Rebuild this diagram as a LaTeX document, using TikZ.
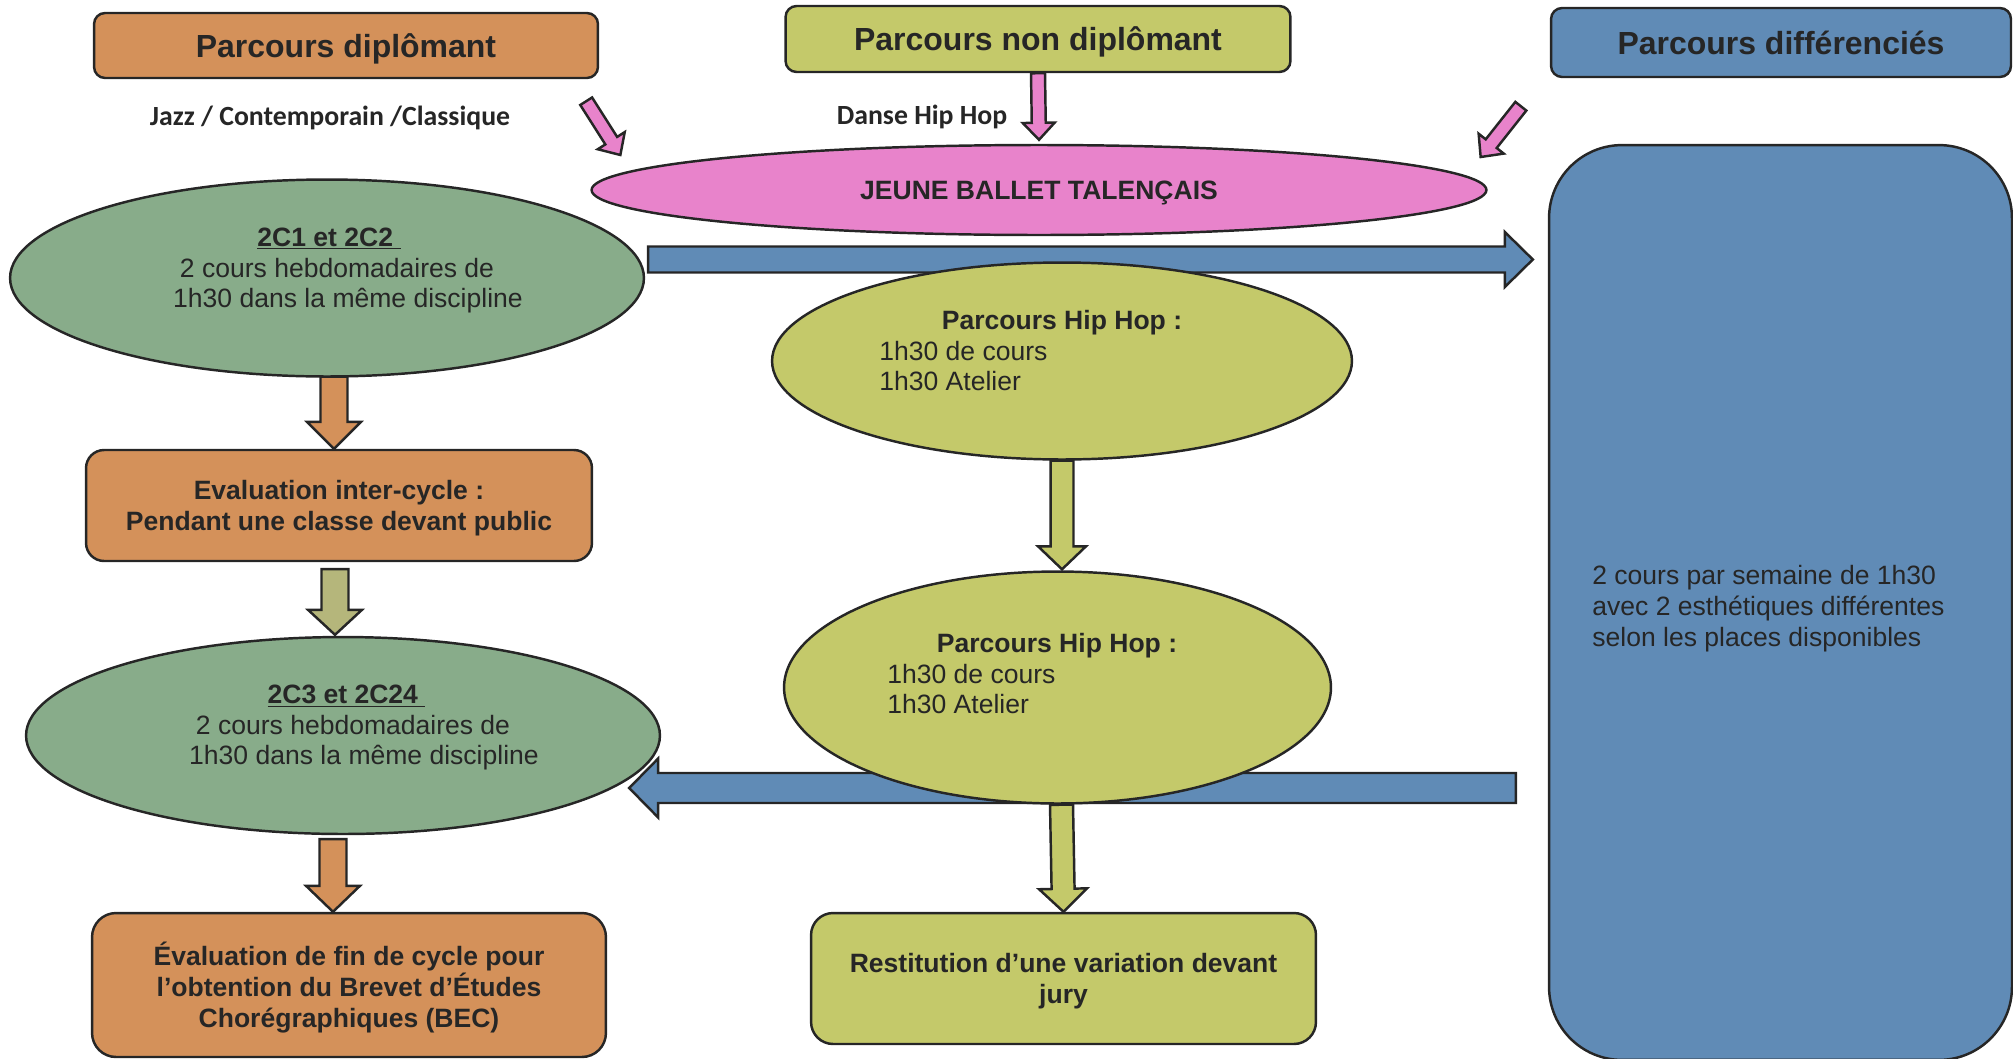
\documentclass[tikz,border=0pt]{standalone}
\usepackage{fontspec}
\setmainfont{Liberation Sans}
\newfontfamily\calibri{Carlito}
\usetikzlibrary{shapes.geometric,calc,backgrounds}

\definecolor{orangebox}{HTML}{D4915A}
\definecolor{olivebox}{HTML}{C4C96A}
\definecolor{bluebox}{HTML}{608BB6}
\definecolor{greenell}{HTML}{88AC8A}
\definecolor{pinkell}{HTML}{E883CB}
\definecolor{khaki}{HTML}{B5B67B}
\definecolor{ink}{HTML}{262626}

\newcommand{\headfont}{\fontsize{18.2}{21}\selectfont\bfseries}
\newcommand{\bodyfont}{\fontsize{15.1}{17.6}\selectfont}
\newcommand{\notefont}{\fontsize{15.8}{18}\selectfont\calibri\bfseries}

% block arrow: style, from, to, shaft half width, head half width, head length
\newcommand{\fatarrow}[6]{%
	\coordinate (hb) at ($(#3)!#6!(#2)$);
	\filldraw[#1] ($(#2)!#4!90:(#3)$) -- ($(hb)!#4!90:(#3)$) -- ($(hb)!#5!90:(#3)$) -- (#3)
		-- ($(hb)!#5!-90:(#3)$) -- ($(hb)!#4!-90:(#3)$) -- ($(#2)!#4!-90:(#3)$) -- cycle;}

\tikzset{
	box/.style={rectangle, rounded corners=#1, draw=ink, line width=1.4pt, text=ink,
		inner sep=0pt, align=center, text depth=0pt, font=\bodyfont\bfseries},
	box/.default=0.22cm,
	ell/.style={ellipse, draw=ink, line width=1.4pt, inner sep=0pt},
	txt/.style={text=ink, font=\bodyfont, align=center, inner sep=0pt},
	arr/.style={draw=ink, line width=1.4pt, line join=miter}
}

\begin{document}
\begin{tikzpicture}[x=0.02cm, y=-0.02cm]
	\useasboundingbox (0,0) rectangle (2013,1058);
	% top row
	\node[box, fill=orangebox, minimum width=10.08cm, minimum height=1.3cm, font=\headfont] (dip) at (346,45.5) {Parcours diplômant};
	\node[box, fill=olivebox, minimum width=10.1cm, minimum height=1.32cm, font=\headfont] (nondip) at (1038,39) {Parcours non diplômant};
	\node[box, fill=bluebox, minimum width=9.2cm, minimum height=1.38cm, font=\headfont] (diff) at (1781,42.5) {Parcours différenciés};
	\node[txt, font=\notefont] (jazz) at (330,117.5) {Jazz / Contemporain /Classique};
	\node[txt, font=\notefont] (hiphop) at (922,116.5) {Danse Hip Hop};
	\node[ell, fill=pinkell, minimum width=17.9cm, minimum height=1.8cm, text=ink, text depth=0pt, font=\bodyfont\bfseries] (jbt) at (1039,190) {JEUNE BALLET TALENÇAIS};
	% parcours diplomant
	\node[ell, fill=greenell, minimum width=12.68cm, minimum height=3.94cm] (g1) at (327,278) {};
	\node[txt] (g1txt) at (337,270.5) {\textbf{\underline{2C1 et 2C2~}}\hspace*{0.32cm}\\2 cours hebdomadaires de\\\hspace*{0.44cm}1h30 dans la même discipline};
	\node[box=0.36cm, fill=orangebox, minimum width=10.12cm, minimum height=2.22cm] (eval) at (339,505.5) {Evaluation inter-cycle :\\Pendant une classe devant public};
	\node[ell, fill=greenell, minimum width=12.68cm, minimum height=3.94cm] (g2) at (343,735.5) {};
	\node[txt] (g2txt) at (353,727.5) {\textbf{\underline{2C3 et 2C24~}}\hspace*{0.26cm}\\2 cours hebdomadaires de\\\hspace*{0.44cm}1h30 dans la même discipline};
	\node[box=0.48cm, fill=orangebox, minimum width=10.28cm, minimum height=2.88cm] (final) at (349,985) {Évaluation de fin de cycle pour\\l’obtention du Brevet d’Études\\Chorégraphiques (BEC)};
	% parcours non diplomant
	\node[ell, fill=olivebox, minimum width=11.6cm, minimum height=3.94cm] (o1) at (1062,361) {};
	\node[txt, font=\bodyfont\bfseries] (o1title) at (1062,323) {Parcours Hip Hop :};
	\node[txt, anchor=west, align=left] (o1lines) at (879,366) {1h30 de cours\\1h30 Atelier};
	\node[ell, fill=olivebox, minimum width=10.94cm, minimum height=4.64cm] (o2) at (1057.5,687.5) {};
	\node[txt, font=\bodyfont\bfseries] (o2title) at (1057,646) {Parcours Hip Hop :};
	\node[txt, anchor=west, align=left] (o2lines) at (887,689) {1h30 de cours\\1h30 Atelier};
	\node[box=0.44cm, fill=olivebox, minimum width=10.1cm, minimum height=2.62cm] (rest) at (1063.5,978.5) {Restitution d’une variation devant\\jury};
	% parcours differencies
	\node[box=1.46cm, fill=bluebox, minimum width=9.26cm, minimum height=18.3cm] (diffbody) at (1780.5,602.5) {};
	\node[txt, anchor=west, align=left] (diffnote) at (1592,609) {2 cours par semaine de 1h30\\avec 2 esthétiques différentes\\selon les places disponibles};

	% connectors
	\coordinate (p1s) at ($(dip.south east)+(-13,22)$);
	\coordinate (p1e) at ($(jbt.west)+(30,-35)$);
	\coordinate (p3s) at ($(diff.south west)+(-29,28)$);
	\coordinate (p3e) at ($(jbt.east)+(-7,-33)$);
	\coordinate (a1s) at ($(g1.south)+(7,-1)$);
	\coordinate (a1e) at ($(eval.north)+(-5,0)$);
	\coordinate (a2s) at ($(eval.south)+(-4,7)$);
	\coordinate (a2e) at ($(eval.south |- g2.north)+(-4,-1)$);
	\coordinate (a3s) at ($(g2.south)+(-10,4)$);
	\coordinate (a3e) at ($(final.north)+(-16,0)$);
	\coordinate (o2top) at ($(o1.south |- o2.north)+(0,-1)$);
	\coordinate (o2bot) at ($(o2.south)+(4,0)$);
	\coordinate (rs) at ($(g1.east)+(3,-18.5)$);
	\coordinate (re) at ($(g1.east -| diffbody.west)+(-15,-18.5)$);
	\coordinate (ls) at ($(g2.east -| diffbody.west)+(-32,52.5)$);
	\coordinate (le) at ($(g2.east)+(-32,52.5)$);
	\begin{scope}[on background layer]
		\fatarrow{arr, fill=pinkell}{p1s}{p1e}{0.14cm}{0.32cm}{0.34cm}
		\fatarrow{arr, fill=pinkell}{nondip.south}{$(jbt.north)+(0,-4)$}{0.14cm}{0.32cm}{0.34cm}
		\fatarrow{arr, fill=pinkell}{p3s}{p3e}{0.14cm}{0.32cm}{0.34cm}
		\fatarrow{arr, fill=orangebox}{a1s}{a1e}{0.27cm}{0.54cm}{0.54cm}
		\fatarrow{arr, fill=khaki}{a2s}{a2e}{0.27cm}{0.54cm}{0.5cm}
		\fatarrow{arr, fill=orangebox}{a3s}{a3e}{0.27cm}{0.54cm}{0.52cm}
		\fatarrow{arr, fill=olivebox}{o1.south}{o2top}{0.23cm}{0.48cm}{0.46cm}
		\fatarrow{arr, fill=olivebox}{o2bot}{rest.north}{0.23cm}{0.48cm}{0.46cm}
		\fatarrow{arr, fill=bluebox}{rs}{re}{0.26cm}{0.55cm}{0.56cm}
		\fatarrow{arr, fill=bluebox}{ls}{le}{0.3cm}{0.59cm}{0.58cm}
	\end{scope}
\end{tikzpicture}
\end{document}
